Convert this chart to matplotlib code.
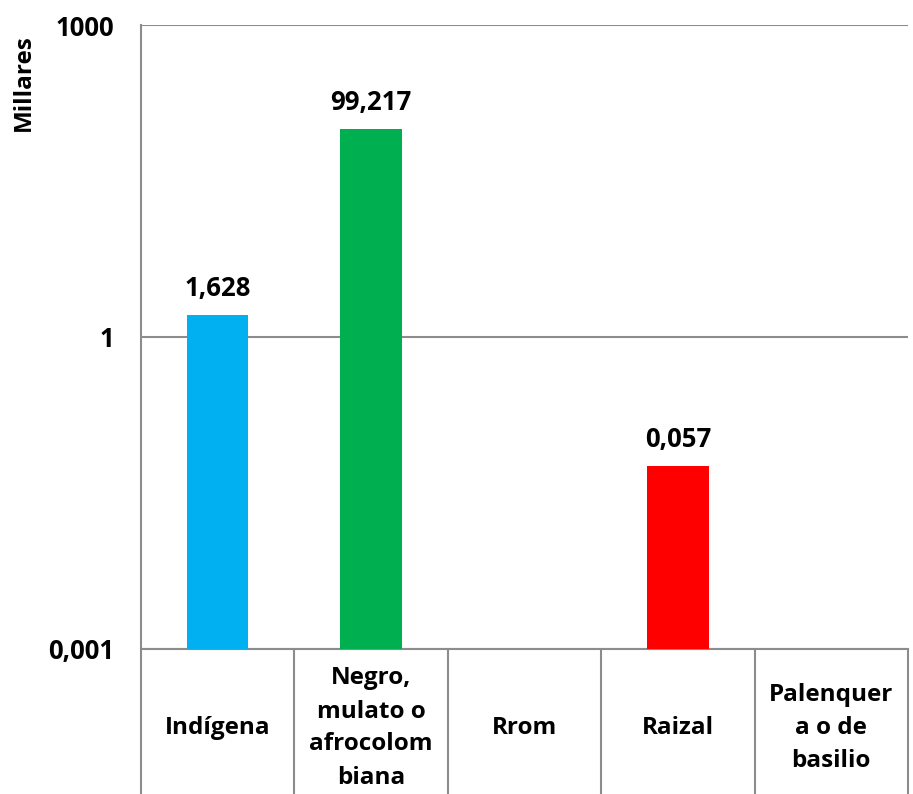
import matplotlib
matplotlib.use("Agg")
import matplotlib.pyplot as plt
import numpy as np

categories = ["Indígena", "Negro,\nmulato o\nafrocolom\nbiana", "Rrom", "Raizal", "Palenquer\na o de\nbasilio"]
values = [1.628, 99.217, 0.0, 0.057, 0.0]
labels = ["1,628", "99,217", "", "0,057", ""]
colors = ["#00B0F0", "#00B050", "#7F7F7F", "#FF0000", "#7F7F7F"]
yticks = [0.001, 1, 1000]
ytick_labels = ["0,001", "1", "1000"]

plt.rcParams['font.family'] = ['Open Sans', 'DejaVu Sans']
plt.rcParams['font.weight'] = 'bold'
FS = 17.5
FN = 18.5

fig = plt.figure(figsize=(9.13, 7.94), dpi=100)
ax = fig.add_axes([141/913, 1-649/794, 767/913, (649-25)/794])

gray = "#8C8C8C"
ax.set_yscale('log')
ax.set_ylim(0.001, 1000)
ax.set_xlim(-0.5, len(categories)-0.5)

x = np.arange(len(categories))
base = 0.001
for xi, v, c, lab in zip(x, values, colors, labels):
    if v > 0:
        ax.bar(xi, v - base, bottom=base, width=0.4, color=c, zorder=3)
        ax.annotate(lab, (xi, v), xytext=(0, 9.5), textcoords='offset points',
                    ha='center', va='bottom', fontsize=FN, fontweight='bold')

ax.set_yticks(yticks)
ax.set_yticklabels(ytick_labels, fontsize=FN, fontweight='bold')
ax.yaxis.set_minor_locator(matplotlib.ticker.NullLocator())
ax.tick_params(axis='y', length=0, pad=19)
ax.grid(axis='y', which='major', color=gray, linewidth=1.5, zorder=0)

ax.set_xticks(x)
ax.set_xticklabels(categories, fontsize=FS, fontweight='bold', linespacing=1.5)
ax.tick_params(axis='x', which='major', length=0, pad=0)
for t in ax.get_xticklabels():
    t.set_va('center')
    t.set_transform(ax.get_xaxis_transform())
    t.set_position((t.get_position()[0], -(728-649)/624))

ax.set_xticks(np.arange(-0.5, len(categories)), minor=True)
ax.tick_params(axis='x', which='minor', length=106, width=1.5, color=gray, direction='out')

for s in ['top', 'right']:
    ax.spines[s].set_visible(False)
ax.spines['left'].set_color(gray)
ax.spines['left'].set_linewidth(1.5)
ax.spines['bottom'].set_color(gray)
ax.spines['bottom'].set_linewidth(1.5)

fig.text(24/913, 1-83/794, "Millares", rotation=90, ha='center', va='center',
         fontsize=FS, fontweight='bold')

fig.savefig("out.png", dpi=100)
